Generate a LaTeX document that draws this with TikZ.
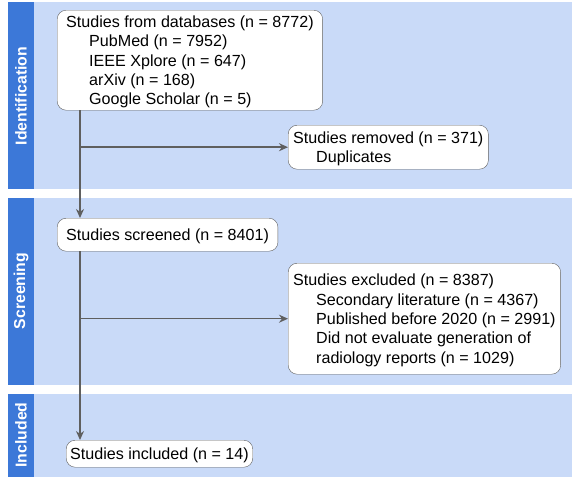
\documentclass[tikz,border=0pt]{standalone}
\usepackage{fontspec}
\setmainfont{Liberation Sans}
\usetikzlibrary{arrows.meta}

\definecolor{bandblue}{HTML}{C9DAF8}
\definecolor{stripblue}{HTML}{3C78D8}
\definecolor{linegrey}{HTML}{5F5F5F}

\begin{document}
\begin{tikzpicture}[x=1pt,y=-1pt,
    box/.style={draw=linegrey,fill=white,rounded corners=9pt,anchor=north west,
        align=left,inner ysep=0pt,text depth=0pt,font=\fontsize{16.1}{19.3}\selectfont},
    stage/.style={rotate=90,text=white,font=\fontsize{15.8}{19}\selectfont\bfseries},
    flow/.style={draw=linegrey,line width=1.5pt},
    arrow/.style={flow,-{Stealth[length=9pt,width=8pt]}}]
    \useasboundingbox (0,0) rectangle (572,477);
    % bands and stage strips
    \fill[bandblue] (34,2) rectangle (572,189);
    \fill[bandblue] (34,198) rectangle (572,385);
    \fill[bandblue] (34,394) rectangle (572,477);
    \fill[stripblue] (8,2) rectangle (34,189);
    \fill[stripblue] (8,198) rectangle (34,385);
    \fill[stripblue] (8,394) rectangle (34,477);
    \node[stage] (identification) at (21,96) {Identification};
    \node[stage] (screening) at (21,291) {Screening};
    \node[stage] (included) at (21,435) {Included};
    % boxes
    \node[box,inner xsep=9pt,minimum height=100pt] (databases) at (57,10)
        {Studies from databases (n = 8772)\\
        \hspace*{23pt}PubMed (n = 7952)\\
        \hspace*{23pt}IEEE Xplore (n = 647)\\
        \hspace*{23pt}arXiv (n = 168)\\
        \hspace*{23pt}Google Scholar (n = 5)};
    \node[box,inner xsep=5pt,minimum height=44pt] (removed) at (288,125)
        {Studies removed (n = 371)\\
        \hspace*{23pt}Duplicates};
    \node[box,inner xsep=9pt,minimum height=33pt] (screened) at (57,218)
        {Studies screened (n = 8401)};
    \node[box,inner xsep=5pt,minimum height=111pt] (excluded) at (288,263)
        {Studies excluded (n = 8387)\\
        \hspace*{23pt}Secondary literature (n = 4367)\\
        \hspace*{23pt}Published before 2020 (n = 2991)\\
        \hspace*{23pt}Did not evaluate generation of\\
        \hspace*{23pt}radiology reports (n = 1029)};
    \node[box,inner xsep=4pt,minimum height=27pt] (studies) at (66,440)
        {Studies included (n = 14)};
    % connectors
    \coordinate (trunk) at (80,0);
    \draw[arrow] (databases.south -| trunk) -- (screened.north -| trunk);
    \draw[arrow] (trunk |- removed.west) -- (removed.west);
    \draw[arrow] (screened.south -| trunk) -- (studies.north -| trunk);
    \draw[arrow] (trunk |- excluded.west) -- (excluded.west);
\end{tikzpicture}
\end{document}
